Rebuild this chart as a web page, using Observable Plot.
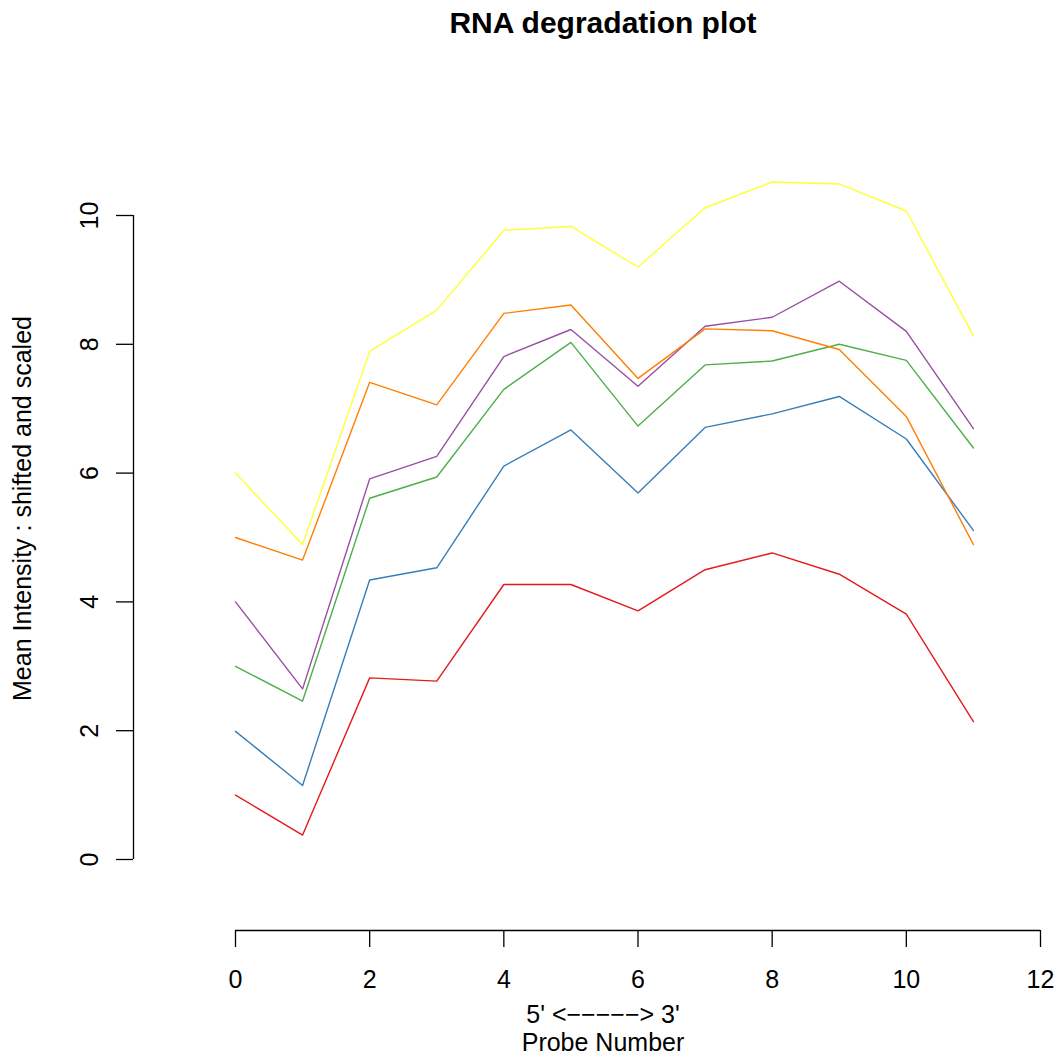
<!DOCTYPE html>
<html>
<head>
<meta charset="utf-8">
<script src="https://cdn.jsdelivr.net/npm/d3@7"></script>
<script src="https://cdn.jsdelivr.net/npm/@observablehq/plot@0.6"></script>
<style>
  body { margin: 0; background: #fff; font-family: "Liberation Sans", Arial, sans-serif; color: #000; }
  #page { width: 1059px; height: 1055px; position: relative; overflow: hidden; }
  #title { position: relative; height: 48px; }
  #title div { position: absolute; top: -1px; left: 203px; width: 800px; text-align: center;
               font-size: 30px; font-weight: bold; line-height: 48px; }
  #chart { height: 948px; }
  #chart svg { display: block; }
  #xlab { position: relative; height: 59px; }
  #xlab div { position: absolute; left: 203px; width: 800px; text-align: center;
              font-size: 25px; line-height: 29px; white-space: nowrap; }
</style>
</head>
<body>
<div id="page">
  <div id="title"><div id="titleText"></div></div>
  <div id="chart"></div>
  <div id="xlab"><div id="xlab1" style="top:4px"></div><div id="xlab2" style="top:32px"></div></div>
</div>
<script>
// ---- data ----
const probeNumbers = [0, 1, 2, 3, 4, 5, 6, 7, 8, 9, 10, 11];
const sample1 = [1.00, 0.38, 2.82, 2.77, 4.27, 4.27, 3.86, 4.50, 4.76, 4.43, 3.81, 2.14];
const sample2 = [1.99, 1.15, 4.34, 4.53, 6.11, 6.67, 5.69, 6.71, 6.92, 7.19, 6.53, 5.11];
const sample3 = [3.00, 2.46, 5.61, 5.94, 7.30, 8.03, 6.73, 7.68, 7.74, 8.00, 7.75, 6.39];
const sample4 = [4.00, 2.65, 5.91, 6.26, 7.81, 8.23, 7.35, 8.28, 8.42, 8.98, 8.20, 6.69];
const sample5 = [5.00, 4.65, 7.41, 7.06, 8.48, 8.61, 7.47, 8.24, 8.21, 7.92, 6.88, 4.89];
const sample6 = [6.00, 4.89, 7.89, 8.53, 9.77, 9.83, 9.20, 10.12, 10.52, 10.49, 10.07, 8.13];
const sampleNames = ["Sample 1", "Sample 2", "Sample 3", "Sample 4", "Sample 5", "Sample 6"];
const sampleColors = ["#E41A1C", "#377EB8", "#4DAF4A", "#984EA3", "#FF7F00", "#FFFF33"];
const xTicks = [0, 2, 4, 6, 8, 10, 12];
const yTicks = [0, 2, 4, 6, 8, 10];
const titleText = "RNA degradation plot";
const yLabel = "Mean Intensity : shifted and scaled";
const xLabelLines = ["5' <\u2212\u2212\u2212\u2212\u2212> 3'", "Probe Number"];

// ---- layout ----
const W = 1059, H = 948;
const mLeft = 133, mTop = 38, mRight = 0, mBottom = 66;
const xDomain = [0, 12], xRange = [235, 1040];
const yDomain = [0, 10], yRange = [811, 167];
const xBase = d3.scaleLinear(xDomain, xRange).invert(mLeft);
const yBase = d3.scaleLinear(yDomain, yRange).invert(H - mBottom);

const seriesValues = [sample1, sample2, sample3, sample4, sample5, sample6];
const rows = sampleNames.flatMap((name, k) =>
  probeNumbers.map((p, i) => ({probe: p, value: seriesValues[k][i], sample: name})));

document.getElementById("titleText").textContent = titleText;
document.getElementById("xlab1").textContent = xLabelLines[0];
document.getElementById("xlab2").textContent = xLabelLines[1];

const chart = Plot.plot({
  width: W,
  height: H,
  marginLeft: mLeft,
  marginTop: mTop,
  marginRight: mRight,
  marginBottom: mBottom,
  style: {fontFamily: "'Liberation Sans', Arial, sans-serif", fontSize: "25px", color: "#000", background: "#fff", overflow: "visible"},
  x: {domain: xDomain, range: xRange},
  y: {domain: yDomain, range: yRange},
  color: {domain: sampleNames, range: sampleColors},
  marks: [
    Plot.ruleY([yBase], {x1: xTicks[0], x2: xTicks[xTicks.length - 1], stroke: "#000", strokeWidth: 1.3}),
    Plot.ruleX([xBase], {y1: yTicks[0], y2: yTicks[yTicks.length - 1], stroke: "#000", strokeWidth: 1.3}),
    Plot.axisX(xTicks, {anchor: "bottom", tickSize: 17, tickPadding: 23, strokeWidth: 1.3, fontSize: 25,
      tickFormat: (d) => String(d), label: null}),
    Plot.axisY(yTicks, {anchor: "left", tickSize: 17, tickPadding: 19, tickRotate: -90, strokeWidth: 1.3, fontSize: 25,
      tickFormat: (d) => String(d),
      label: yLabel, labelAnchor: "center", labelOffset: 120, labelArrow: "none"}),
    Plot.line(rows, {x: "probe", y: "value", z: "sample", stroke: "sample", strokeWidth: 1.4})
  ]
});
document.getElementById("chart").appendChild(chart);
</script>
</body>
</html>
